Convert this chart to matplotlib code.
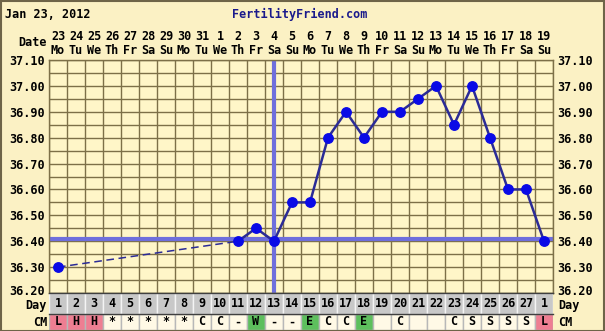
import matplotlib
matplotlib.use("Agg")
import matplotlib.pyplot as plt
import matplotlib.transforms as mtransforms
from matplotlib.patches import Rectangle
import numpy as np

# ---------------- data ----------------
dates = [23, 24, 25, 26, 27, 28, 29, 30, 31, 1, 2, 3, 4, 5, 6, 7, 8, 9, 10,
         11, 12, 13, 14, 15, 16, 17, 18, 19]
weekdays = ["Mo", "Tu", "We", "Th", "Fr", "Sa", "Su"] * 4
cycle_days = list(range(1, 28)) + [1]
temps = [36.30, None, None, None, None, None, None, None, None, None,
         36.40, 36.45, 36.40, 36.55, 36.55, 36.80, 36.90, 36.80, 36.90, 36.90,
         36.95, 37.00, 36.85, 37.00, 36.80, 36.60, 36.60, 36.40]
cm = ["L", "H", "H", "*", "*", "*", "*", "*", "C", "C", "-", "W", "-", "-",
      "E", "C", "C", "E", "", "C", "", "", "C", "S", "S", "S", "S", "L"]
coverline = 36.41
ovulation_day = 13
yticks = [36.20, 36.30, 36.40, 36.50, 36.60, 36.70, 36.80, 36.90, 37.00, 37.10]
title = "Jan 23, 2012"
site = "FertilityFriend.com"

# ---------------- style ----------------
W, H = 605, 331
BG = "#FBF1C4"
PLOT_BG = "#FFF6C8"
GRID = "#7D7048"
LINE = "#2B2B96"
MARK = "#0A0AE6"
COVER = "#6F6FDC"
FONT = dict(family="DejaVu Sans Mono", fontweight="bold", fontsize=8.5)
cm_colors = {"L": "#EE7E92", "H": "#EE7E92", "W": "#5DBF5D", "E": "#5DBF5D"}

fig = plt.figure(figsize=(W / 100, H / 100), dpi=100, facecolor=BG)

def px_rect(x0, y0, x1, y1):
    return [x0 / W, 1 - y1 / H, (x1 - x0) / W, (y1 - y0) / H]

n = len(dates)
xs = np.arange(1, n + 1)

ax = fig.add_axes(px_rect(49, 60, 553, 293))
ax.set_facecolor(PLOT_BG)
ax.set_xlim(0.5, n + 0.5)
ax.set_ylim(36.20, 37.10)
for x in np.arange(0.5, n + 1, 1.0):
    ax.axvline(x, color=GRID, lw=1.0, zorder=1)
for y in np.arange(36.20, 37.101, 0.05):
    ax.axhline(y, color=GRID, lw=1.0, zorder=1)
ax.set_xticks([])
ax.set_yticks(yticks)
ax.set_yticklabels([f"{v:.2f}" for v in yticks], **FONT)
ax.tick_params(axis="y", length=0, pad=3, labelleft=True, labelright=True)
# nudge the lowest labels up a little, as in the reference
offset = mtransforms.ScaledTranslation(0, 3 / 100, fig.dpi_scale_trans)
for t in ax.yaxis.get_major_ticks()[:1]:
    t.label1.set_transform(t.label1.get_transform() + offset)
    t.label2.set_transform(t.label2.get_transform() + offset)
for s in ax.spines.values():
    s.set_color(GRID)
    s.set_linewidth(1.0)

# coverline and ovulation line
ax.axhline(coverline, color=COVER, lw=3, zorder=2)
ax.axvline(ovulation_day, color=COVER, lw=3, zorder=2)

# dashed connection across missing days, solid afterwards
valid = [(x, t) for x, t in zip(xs, temps) if t is not None]
vx = [p[0] for p in valid]
vt = [p[1] for p in valid]
ax.plot(vx[:2], vt[:2], color=LINE, lw=1.1, ls=(0, (5, 3)), zorder=3)
ax.plot(vx[1:], vt[1:], color=LINE, lw=1.8, zorder=3)
ax.plot(vx, vt, ls="none", marker="o", ms=6.8, color=MARK, zorder=4)

# top date labels
tr = mtransforms.blended_transform_factory(ax.transData, fig.transFigure)
for x, d, wd in zip(xs, dates, weekdays):
    ax.text(x, 1 - 37 / H, str(d), transform=tr, ha="center", va="center", **FONT)
    ax.text(x, 1 - 50 / H, wd, transform=tr, ha="center", va="center", **FONT)
fig.text(47 / W, 1 - 43 / H, "Date", ha="right", va="center", **FONT)

# title row
fig.text(5 / W, 1 - 14 / H, title, ha="left", va="center", color="black", **FONT)
fig.text(300 / W, 1 - 14 / H, site, ha="center", va="center", color="#1A1A8C", **FONT)

# bottom table
tb = fig.add_axes(px_rect(49, 293, 553, 331))
tb.set_xlim(0.5, n + 0.5)
tb.set_ylim(0, 2.1)
tb.axis("off")
for x, d, c in zip(xs, cycle_days, cm):
    tb.add_patch(Rectangle((x - 0.5, 0.95), 1, 1.15, facecolor="#C8C8C8",
                           edgecolor="#F4F4F4", lw=1))
    tb.text(x, 1.5, str(d), ha="center", va="center", **FONT)
    tb.add_patch(Rectangle((x - 0.5, 0.05), 1, 0.9,
                           facecolor=cm_colors.get(c, "#FFF9E6"),
                           edgecolor="#B8B8B8", lw=1))
    tb.text(x, 0.5, c, ha="center", va="center", **FONT)
tb.plot([0.5, n + 0.5], [2.1, 2.1], color="#404040", lw=1, clip_on=False)
tb.plot([0.5, n + 0.5], [0.95, 0.95], color="#404040", lw=1, clip_on=False)

fig.text(47 / W, 1 - 305 / H, "Day", ha="right", va="center", **FONT)
fig.text(47 / W, 1 - 323 / H, "CM", ha="right", va="center", **FONT)
fig.text(558 / W, 1 - 305 / H, "Day", ha="left", va="center", **FONT)
fig.text(558 / W, 1 - 323 / H, "CM", ha="left", va="center", **FONT)

# outer border
fig.add_artist(Rectangle((0.5 / W, 0.5 / H), 1 - 1.5 / W, 1 - 1.5 / H,
                         transform=fig.transFigure, fill=False,
                         edgecolor="#6E6448", lw=1.5))

fig.savefig("out.png", dpi=100, facecolor=BG)
